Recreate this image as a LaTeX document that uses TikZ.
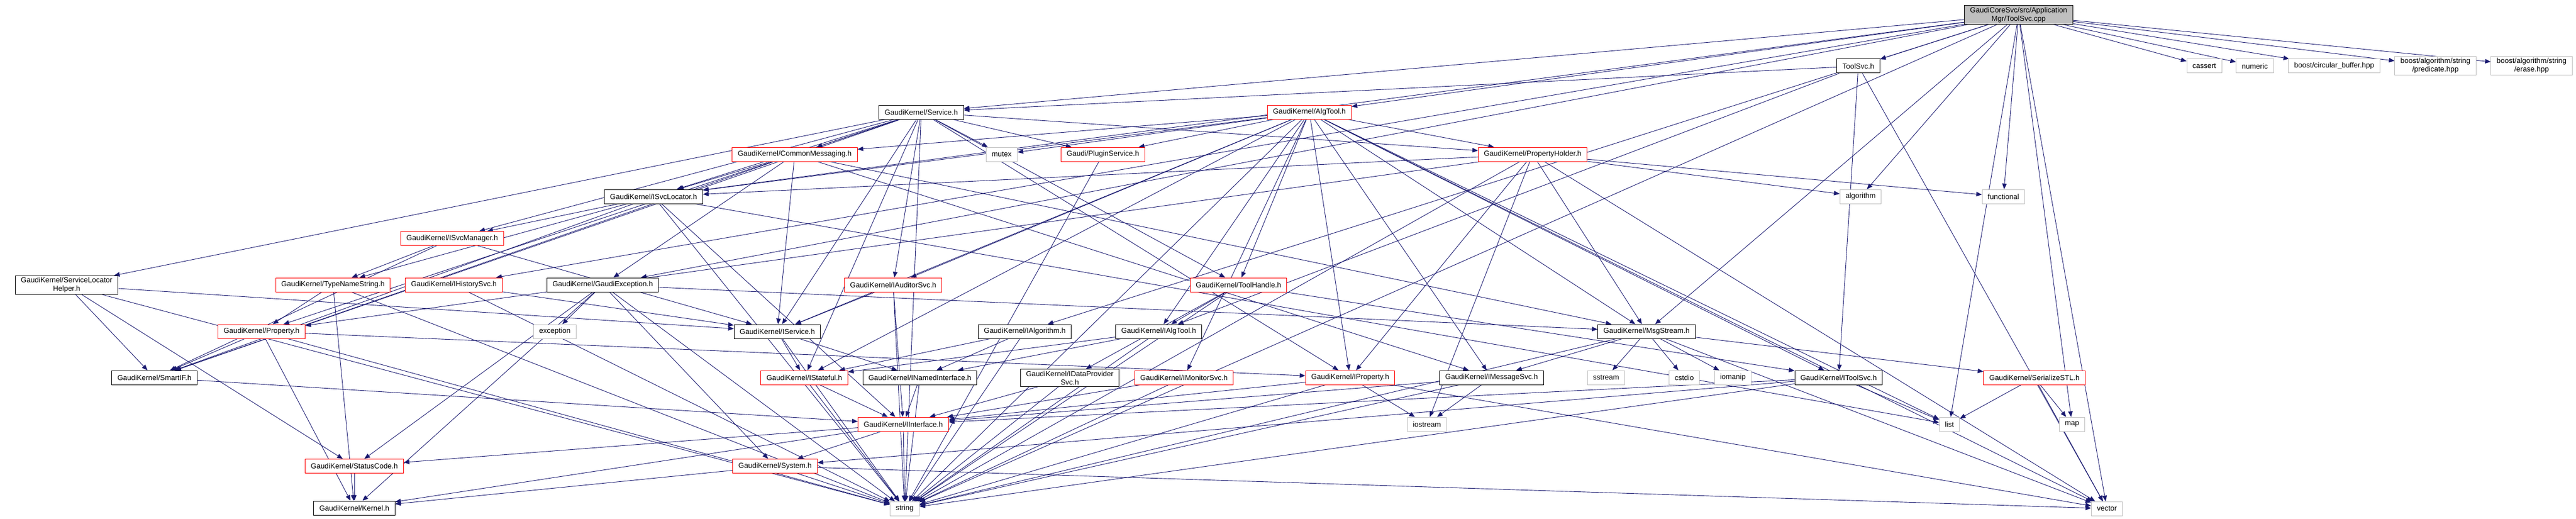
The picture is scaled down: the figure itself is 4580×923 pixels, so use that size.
\documentclass[tikz,border=0pt]{standalone}
\usepackage{fontspec}
\setmainfont{Liberation Sans}
\usepackage{tikz}
\usetikzlibrary{arrows.meta,positioning}
\pgfdeclarelayer{bg}
\pgfsetlayers{bg,main}
\definecolor{edgeblue}{HTML}{191970}
\definecolor{extgray}{HTML}{BFBFBF}
\definecolor{truncred}{HTML}{FF0000}
\begin{document}
\begin{tikzpicture}[x=1pt,y=-1pt,
    every node/.style={font=\fontsize{13}{15}\selectfont,inner xsep=10pt,inner ysep=3pt,
      minimum height=25pt,fill=white,align=center},
    filebox/.style={draw=black,line width=1pt},
    redbox/.style={draw=truncred,line width=1pt},
    extbox/.style={draw=extgray,line width=1pt},
    rootbox/.style={draw=black,line width=1pt,fill=extgray},
    incl/.style={draw=edgeblue,line width=0.9pt,-{Triangle[length=10pt,width=8pt]}}]
\useasboundingbox (0,0) rectangle (4580,923);

\node[rootbox] (root) at (3589,26.5) {GaudiCoreSvc/src/Application\\Mgr/ToolSvc.cpp};

\node[filebox] (toolsvch) at (3304,117.5) {ToolSvc.h};
\node[extbox] (cassert) at (3919,117.5) {cassert};
\node[extbox] (numeric) at (4009,117.5) {numeric};
\node[extbox] (cbuf) at (4150,117.5) {boost/circular\_buffer.hpp};
\node[extbox] (pred) at (4330,117) {boost/algorithm/string\\/predicate.hpp};
\node[extbox] (erase) at (4501,117) {boost/algorithm/string\\/erase.hpp};

\node[filebox] (service) at (1638,199.5) {GaudiKernel/Service.h};
\node[redbox] (algtool) at (2328,199.5) {GaudiKernel/AlgTool.h};

\node[redbox] (commsg) at (1413,274.5) {GaudiKernel/CommonMessaging.h};
\node[extbox] (mutex) at (1781,274.5) {mutex};
\node[redbox] (plugin) at (1961,274.5) {Gaudi/PluginService.h};
\node[redbox] (propholder) at (2725,274.5) {GaudiKernel/PropertyHolder.h};

\node[filebox] (isvcloc) at (1162,349.5) {GaudiKernel/ISvcLocator.h};
\node[extbox] (algorithm) at (3308,349.5) {algorithm};
\node[extbox] (functional) at (3562,349.5) {functional};

\node[redbox] (isvcmgr) at (804,424) {GaudiKernel/ISvcManager.h};

\node[filebox] (slh) at (118.5,507) {GaudiKernel/ServiceLocator\\Helper.h};
\node[redbox] (typename) at (592,506.5) {GaudiKernel/TypeNameString.h};
\node[redbox] (ihistory) at (807,506.5) {GaudiKernel/IHistorySvc.h};
\node[filebox] (gexcept) at (1071.5,506.5) {GaudiKernel/GaudiException.h};
\node[redbox] (iauditor) at (1588,506.5) {GaudiKernel/IAuditorSvc.h};
\node[redbox] (toolhandle) at (2202,506.5) {GaudiKernel/ToolHandle.h};

\node[redbox] (property) at (465,589.5) {GaudiKernel/Property.h};
\node[extbox] (exception) at (986.5,589.5) {exception};
\node[filebox] (iservice) at (1382,589.5) {GaudiKernel/IService.h};
\node[filebox] (ialgorithm) at (1822,589.5) {GaudiKernel/IAlgorithm.h};
\node[filebox] (ialgtool) at (2060,589.5) {GaudiKernel/IAlgTool.h};
\node[filebox] (msgstream) at (2927.5,589.5) {GaudiKernel/MsgStream.h};

\node[filebox] (smartif) at (274.5,671.5) {GaudiKernel/SmartIF.h};
\node[redbox] (istateful) at (1430,671.5) {GaudiKernel/IStateful.h};
\node[filebox] (inamed) at (1635.5,671.5) {GaudiKernel/INamedInterface.h};
\node[filebox] (idataprov) at (1902,672) {GaudiKernel/IDataProvider\\Svc.h};
\node[redbox] (imonitor) at (2105,671.5) {GaudiKernel/IMonitorSvc.h};
\node[redbox] (iproperty) at (2400.5,671.5) {GaudiKernel/IProperty.h};
\node[filebox] (imsgsvc) at (2652,671.5) {GaudiKernel/IMessageSvc.h};
\node[extbox] (sstream) at (2855.5,671.5) {sstream};
\node[extbox] (cstdio) at (2994.5,671.5) {cstdio};
\node[extbox] (iomanip) at (3081,671.5) {iomanip};
\node[filebox] (itoolsvc) at (3269,671.5) {GaudiKernel/IToolSvc.h};
\node[redbox] (serialize) at (3617,671.5) {GaudiKernel/SerializeSTL.h};

\node[redbox] (iinterface) at (1606,754.5) {GaudiKernel/IInterface.h};
\node[extbox] (iostream) at (2537,754.5) {iostream};
\node[extbox] (list) at (3466,754.5) {list};
\node[extbox] (map) at (3684,754.5) {map};

\node[redbox] (statuscode) at (630,829) {GaudiKernel/StatusCode.h};
\node[redbox] (system) at (1378,829) {GaudiKernel/System.h};

\node[filebox] (kernel) at (630,903.5) {GaudiKernel/Kernel.h};
\node[extbox] (string) at (1608.5,904.5) {string};
\node[extbox] (vector) at (3746,904.5) {vector};

\begin{pgfonlayer}{bg}
\foreach \a/\b in {root/toolsvch,root/service,root/algtool,root/isvcloc,root/gexcept,
    root/ihistory,root/ialgorithm,root/msgstream,root/cassert,root/numeric,root/cbuf,
    root/pred,root/erase,root/algorithm,root/functional,root/map,root/list,root/string,
    root/vector,
    toolsvch/service,toolsvch/ialgtool,toolsvch/itoolsvc,toolsvch/vector,
    service/slh,service/smartif,service/isvcloc,service/commsg,service/mutex,
    service/plugin,service/propholder,service/iauditor,service/isvcmgr,service/iservice,
    service/istateful,service/property,service/iproperty,service/toolhandle,
    service/string,
    algtool/commsg,algtool/mutex,algtool/plugin,algtool/propholder,algtool/isvcloc,
    algtool/iauditor,algtool/toolhandle,algtool/iservice,algtool/istateful,
    algtool/ialgtool,algtool/imonitor,algtool/iproperty,algtool/imsgsvc,
    algtool/itoolsvc,algtool/msgstream,algtool/list,algtool/string,algtool/vector,
    commsg/isvcloc,commsg/gexcept,commsg/iservice,commsg/smartif,commsg/imsgsvc,
    commsg/msgstream,
    propholder/isvcloc,propholder/algorithm,propholder/functional,propholder/property,
    propholder/iproperty,propholder/msgstream,propholder/iostream,propholder/string,
    propholder/vector,
    plugin/string,
    isvcloc/isvcmgr,isvcloc/smartif,isvcloc/typename,isvcloc/iinterface,isvcloc/list,
    isvcloc/string,
    isvcmgr/typename,isvcmgr/iservice,isvcmgr/smartif,
    slh/iservice,slh/smartif,slh/statuscode,slh/string,
    typename/property,typename/string,typename/kernel,
    ihistory/iservice,ihistory/string,
    gexcept/exception,gexcept/kernel,gexcept/statuscode,gexcept/system,
    gexcept/msgstream,gexcept/string,
    iauditor/iservice,iauditor/iinterface,iauditor/string,
    toolhandle/ialgtool,toolhandle/itoolsvc,toolhandle/idataprov,toolhandle/string,
    property/smartif,property/iproperty,property/kernel,property/string,
    iservice/inamed,iservice/istateful,iservice/string,
    ialgorithm/inamed,ialgorithm/istateful,ialgorithm/string,
    ialgtool/inamed,ialgtool/istateful,ialgtool/string,
    msgstream/imsgsvc,msgstream/sstream,msgstream/cstdio,msgstream/iomanip,
    msgstream/serialize,msgstream/string,msgstream/vector,
    smartif/iinterface,
    istateful/iinterface,istateful/string,
    inamed/iinterface,inamed/string,
    idataprov/iinterface,idataprov/string,
    imonitor/iinterface,imonitor/string,
    iproperty/iinterface,iproperty/iostream,iproperty/string,iproperty/vector,
    imsgsvc/iinterface,imsgsvc/iostream,imsgsvc/string,
    itoolsvc/iinterface,itoolsvc/system,itoolsvc/list,itoolsvc/string,
    serialize/list,serialize/map,serialize/vector,
    iinterface/statuscode,iinterface/system,iinterface/kernel,iinterface/string,
    statuscode/kernel,
    system/kernel,system/string,system/vector}
  \draw[incl] (\a) -- (\b);
\end{pgfonlayer}
\end{tikzpicture}
\end{document}
